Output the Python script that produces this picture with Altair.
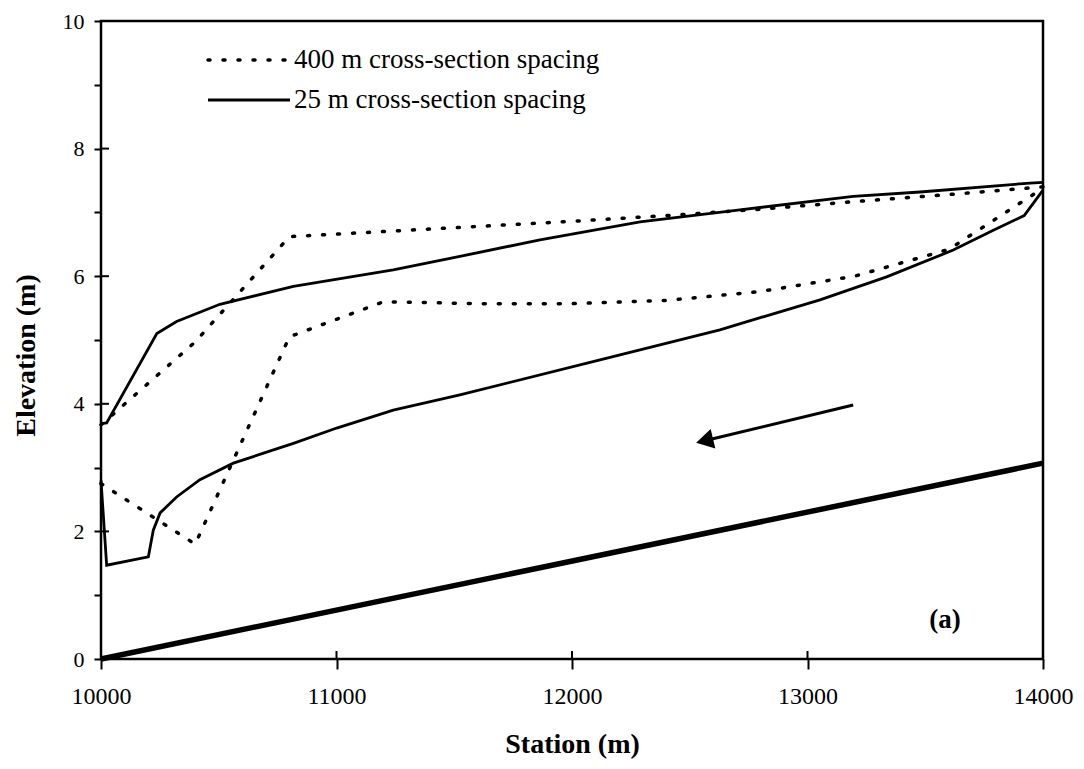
import altair as alt
import pandas as pd

SERIF = "Liberation Serif"

# ---- data ----
station_25_upper = [10000, 10024, 10237, 10321, 10505, 10817, 11241, 11524, 11864, 12289, 12713, 13194, 13478, 13945, 14000]
elev_25_upper = [3.69, 3.70, 5.10, 5.29, 5.56, 5.84, 6.10, 6.31, 6.57, 6.85, 7.04, 7.25, 7.32, 7.46, 7.47]

station_25_lower = [10000, 10024, 10201, 10222, 10251, 10321, 10420, 10562, 10817, 11001, 11241, 11524, 12119, 12628, 13053, 13336, 13619, 13789, 13920, 14000]
elev_25_lower = [2.80, 1.47, 1.60, 2.02, 2.29, 2.54, 2.81, 3.07, 3.38, 3.62, 3.90, 4.14, 4.69, 5.16, 5.63, 5.99, 6.41, 6.72, 6.95, 7.35]

station_400 = [10000, 10400, 10800, 11200, 11600, 12000, 12400, 12800, 13200, 13600, 14000]
elev_400_upper = [3.67, 4.97, 6.62, 6.70, 6.78, 6.86, 6.95, 7.05, 7.17, 7.28, 7.40]
elev_400_lower = [2.75, 1.80, 5.05, 5.60, 5.57, 5.57, 5.62, 5.76, 6.00, 6.42, 7.38]

station_bed = [10000, 14000]
elev_bed = [0.0, 3.07]

arrow_station = [13194, 12563]
arrow_elev = [3.98, 3.42]

panel_label = ["(a)"]
panel_label_station = [13584]
panel_label_elev = [0.61]

legend_labels = ["400 m cross-section spacing", "25 m cross-section spacing"]

x_tick_values = [10000, 11000, 12000, 13000, 14000]
x_inner_ticks = [11000, 12000, 13000]
y_tick_values = [0, 1, 2, 3, 4, 5, 6, 7, 8, 9, 10]
y_inner_ticks = [2, 4, 6, 8]

W, H = 942, 638

x_scale = alt.Scale(domain=[10000, 14000], nice=False, zero=False)
y_scale = alt.Scale(domain=[0, 10], nice=False)

x_axis = alt.Axis(values=x_tick_values, format="d", title="Station (m)",
                  labelFont=SERIF, labelFontSize=24, labelColor="black", labelPadding=15,
                  labelFlush=False,
                  tickSize=10, tickColor="black", tickWidth=2, domain=False, grid=False,
                  titleFont=SERIF, titleFontSize=28, titleFontWeight="bold", titleColor="black",
                  titlePadding=22)
y_axis = alt.Axis(values=y_tick_values, labelExpr="datum.value % 2 == 0 ? datum.label : ''",
                  title="Elevation (m)", labelFont=SERIF, labelFontSize=22, labelColor="black",
                  labelPadding=10, labelFlush=False,
                  tickSize=7, tickColor="black", tickWidth=2, domain=False,
                  grid=False, titleFont=SERIF, titleFontSize=28, titleFontWeight="bold",
                  titleColor="black", titlePadding=22, titleY=334)


def X(field):
    return alt.X(f"{field}:Q", scale=x_scale, axis=x_axis)


def Y(field):
    return alt.Y(f"{field}:Q", scale=y_scale, axis=y_axis)


def line_df(xs, ys):
    return pd.DataFrame({"station": xs, "elev": ys})


solid_style = dict(color="black", strokeWidth=2.8)
dot_style = dict(color="black", strokeWidth=3.5, strokeDash=[2, 13], strokeCap="round")

layers = []
layers.append(alt.Chart(line_df(station_bed, elev_bed)).mark_line(color="black", strokeWidth=5.5)
              .encode(x=X("station"), y=Y("elev")))
layers.append(alt.Chart(line_df(station_25_upper, elev_25_upper)).mark_line(**solid_style)
              .encode(x=X("station"), y=Y("elev")))
layers.append(alt.Chart(line_df(station_25_lower, elev_25_lower)).mark_line(**solid_style)
              .encode(x=X("station"), y=Y("elev")))
layers.append(alt.Chart(line_df(station_400, elev_400_upper)).mark_line(**dot_style)
              .encode(x=X("station"), y=Y("elev")))
layers.append(alt.Chart(line_df(station_400, elev_400_lower)).mark_line(**dot_style)
              .encode(x=X("station"), y=Y("elev")))

# flow arrow
arrow_df = line_df(arrow_station, arrow_elev)
layers.append(alt.Chart(arrow_df).mark_line(color="black", strokeWidth=3)
              .encode(x=X("station"), y=Y("elev")))
layers.append(alt.Chart(arrow_df.iloc[[1]]).mark_point(shape="triangle-left", size=400, filled=True,
                                                        color="black", opacity=1, angle=346.5)
              .encode(x=X("station"), y=Y("elev")))

# panel label
layers.append(alt.Chart(pd.DataFrame({"station": panel_label_station, "elev": panel_label_elev,
                                      "label": panel_label}))
              .mark_text(font=SERIF, fontSize=27, fontWeight="bold", color="black",
                         align="center", baseline="middle")
              .encode(x=X("station"), y=Y("elev"), text="label:N"))

# inward halves of the major ticks
layers.append(alt.Chart(pd.DataFrame({"elev": y_inner_ticks}))
              .mark_tick(orient="horizontal", size=8, thickness=2, color="black", opacity=1)
              .encode(y=Y("elev"), x=alt.value(4)))
layers.append(alt.Chart(pd.DataFrame({"station": x_inner_ticks}))
              .mark_tick(orient="vertical", size=8, thickness=2, color="black", opacity=1)
              .encode(x=X("station"), y=alt.value(H - 4)))

# manual legend (top-left inside the plot)
leg_x1, leg_x2, leg_tx = 107, 189, 193
leg_y = [39, 79]
layers.append(alt.Chart(pd.DataFrame({"label": [legend_labels[0]]}))
              .mark_rule(color="black", strokeWidth=3.5, strokeDash=[2, 13], strokeCap="round")
              .encode(x=alt.value(leg_x1), x2=alt.value(leg_x2), y=alt.value(leg_y[0])))
layers.append(alt.Chart(pd.DataFrame({"label": [legend_labels[1]]}))
              .mark_rule(color="black", strokeWidth=2.8)
              .encode(x=alt.value(leg_x1), x2=alt.value(leg_x2), y=alt.value(leg_y[1])))
for i, lab in enumerate(legend_labels):
    layers.append(alt.Chart(pd.DataFrame({"label": [lab]}))
                  .mark_text(font=SERIF, fontSize=27, color="black", align="left", baseline="middle")
                  .encode(x=alt.value(leg_tx), y=alt.value(leg_y[i]), text="label:N"))

chart = (alt.layer(*layers)
         .properties(width=W, height=H,
                     autosize=alt.AutoSizeParams(type="none"),
                     padding={"left": 101, "top": 21, "right": 41, "bottom": 110},
                     background="white")
         .configure_view(stroke="black", strokeWidth=2.5))

chart.save("out.html", embed_options={"renderer": "svg", "actions": False})
